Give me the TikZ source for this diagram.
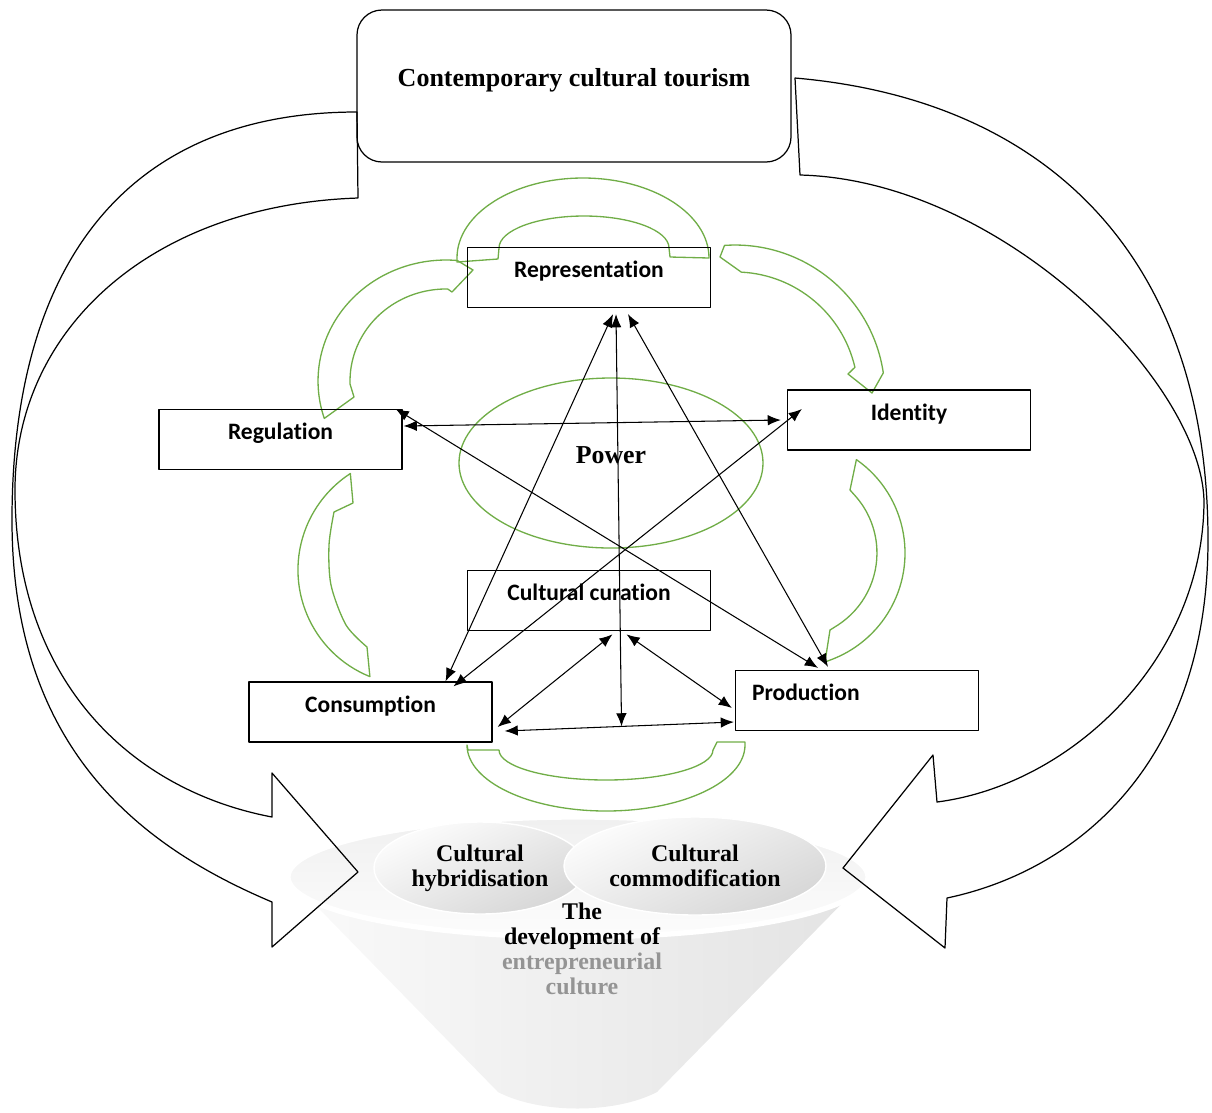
\documentclass[tikz,border=0pt]{standalone}
\usepackage{fontspec}
\setmainfont{Liberation Serif}
\newfontfamily\boxfont[RawFeature={-liga;-clig;-calt;-dlig}]{Carlito}
\usetikzlibrary{shapes, positioning, calc, arrows.meta}
\definecolor{arcgreen}{HTML}{70AD47}

\begin{document}
\begin{tikzpicture}[x=0.2mm, y=-0.2mm, line join=round,
  factor/.style={draw, line width=0.7pt, minimum width=48.6mm, minimum height=12mm, inner sep=0pt, text height=10pt, text depth=10pt, font=\boxfont\fontsize{13.4}{16}\selectfont\bfseries},
  link/.style={<->, >={Latex[length=7.5pt, width=6pt]}, line width=0.6pt},
  greenarrow/.style={draw=arcgreen, line width=0.75pt},
  bigarrow/.style={draw=black, line width=0.7pt},
  serifbold/.style={font=\fontsize{13.6}{14.2}\selectfont\bfseries, align=center}];

\useasboundingbox (0,0) rectangle (1212,1112);

% funnel at the bottom

\shade[left color=gray!4, right color=gray!22] (288,877) -- (498,1092) .. controls (540,1114) and (615,1114) .. (657,1092) -- (868,877) arc[start angle=360, end angle=180, x radius=290, y radius=60] -- cycle;
\shade[top color=gray!12, bottom color=gray!2] (578,877) ellipse[x radius=290, y radius=60];
\draw[white, line width=3pt] (578,877) ellipse[x radius=290, y radius=60];

\node[ellipse, draw=white, line width=0.8pt, top color=gray!2, bottom color=gray!32, shading angle=25, minimum width=42.4mm, minimum height=18.4mm, serifbold] (hybrid) at (480,868) {Cultural\\hybridisation};
\node[ellipse, draw=white, line width=0.8pt, top color=gray!2, bottom color=gray!32, shading angle=25, minimum width=52.4mm, minimum height=19.6mm, serifbold] (commod) at (695,866) {Cultural\\commodification};
\node[serifbold] (develop) at (582,949) {The\\development of\\\textcolor{black!42}{entrepreneurial}\\\textcolor{black!42}{culture}};

% top box and the two big arrows

\node[draw, line width=0.7pt, rounded corners=5mm, minimum width=86.8mm, minimum height=30.4mm, text height=12pt, text depth=12pt, font=\fontsize{14.8}{18}\selectfont\bfseries] (tourism) at (574,86) {Contemporary cultural tourism};

\draw[bigarrow] (357,112) .. controls (130,112) and (12,260) .. (12,520) .. controls (12,750) and (142,847) .. (272,902) -- (272,947) -- (358,872) -- (272,773) -- (272,817) .. controls (130,790) and (15,680) .. (15,490) .. controls (15,330) and (150,205) .. (358,198) -- cycle;
\draw[bigarrow] (795,78) .. controls (1050,100) and (1208,260) .. (1208,540) .. controls (1208,760) and (1080,870) .. (947,898) -- (945,948) -- (843,868) -- (933,755) -- (937,802) .. controls (1070,785) and (1204,660) .. (1204,500) .. controls (1200,380) and (1000,180) .. (800,175) -- cycle;

% green curved arrows round the circuit

\draw[greenarrow] (457,262) -- (457,258) arc[start angle=180, end angle=360, x radius=126, y radius=80] -- (670,257) -- (669,248) arc[start angle=360, end angle=180, x radius=85, y radius=32] -- (498,259) -- cycle;
\draw[greenarrow] (354,397) -- (324.3,418.4) arc[start angle=162, end angle=275, x radius=128, y radius=121] -- (473,270) -- (452,292) -- (447.7,289) arc[start angle=271, end angle=178, x radius=96, y radius=92] -- cycle;
\draw[greenarrow] (741.4,272.2) -- (720,257) -- (724.5,245.4) arc[start angle=266, end angle=351.5, radius=150] -- (872,393) -- (848,374) -- (854.9,367.3) arc[start angle=347, end angle=273, radius=123] -- cycle;
\draw[greenarrow] (856.4,459.6) arc[start angle=305, end angle=428.6, radius=114] -- (825,662) -- (830,630) -- (837.8,625.1) arc[start angle=417, end angle=318, radius=86] -- (850,490) -- cycle;
\draw[greenarrow] (369.9,676.6) arc[start angle=112, end angle=237, radius=115] -- (353,503) -- plot[smooth] coordinates {(334,512) (329,545) (331,585) (346,625) (367,647)} -- cycle;
\draw[greenarrow] (745,742) -- (745,745) arc[start angle=0, end angle=180, x radius=139, y radius=66] -- (468,750) -- (499,750) arc[start angle=180, end angle=0, x radius=107, y radius=30] -- (717,742) -- cycle;

% power in the middle

\node[ellipse, draw=arcgreen, line width=0.75pt, minimum width=60.8mm, minimum height=34mm, text height=10pt, text depth=10pt, font=\fontsize{14.7}{18}\selectfont\bfseries] (power) at (611,463) {Power};

% the six boxes

\node[factor] (representation) at (589,277.5) {Representation};
\node[factor, below=5.24cm of representation] (curation) {Cultural curation};
\node[factor] (regulation) at (280.5,439.5) {Regulation};
\node[factor] (identity) at (909,420) {Identity};
\node[factor] (consumption) at (370.5,712) {Consumption};
\node[factor, align=left, text width=42mm] (production) at (857,700.5) {Production};

% arrows

\draw[link] ($(regulation.east)+(1,-13.5)$) -- ($(identity.west)+(-6,0)$);
\draw[link] ($(regulation.north east)+(-7,0)$) -- ($(production.north)+(-39,-2)$);
\draw[link] ($(representation.south)+(39,6)$) -- ($(production.north)+(-29,-3)$);
\draw[link] ($(representation.south)+(24,6)$) -- ($(consumption.north)+(75,0)$);
\draw[link] ($(identity.west)+(15,-11)$) -- ($(consumption.north)+(83,5)$);
\draw[link] ($(consumption.east)+(12,19)$) -- ($(production.west)+(-1,21.5)$) coordinate[pos=0.51] (crossbase);
\draw[link] ($(representation.south)+(27,6)$) -- (crossbase);
\draw[link] ($(curation.south)+(23.5,3)$) -- ($(consumption.east)+(5,15)$);
\draw[link] ($(curation.south)+(37.5,3)$) -- ($(production.west)+(-3,7.5)$);

\end{tikzpicture}
\end{document}
